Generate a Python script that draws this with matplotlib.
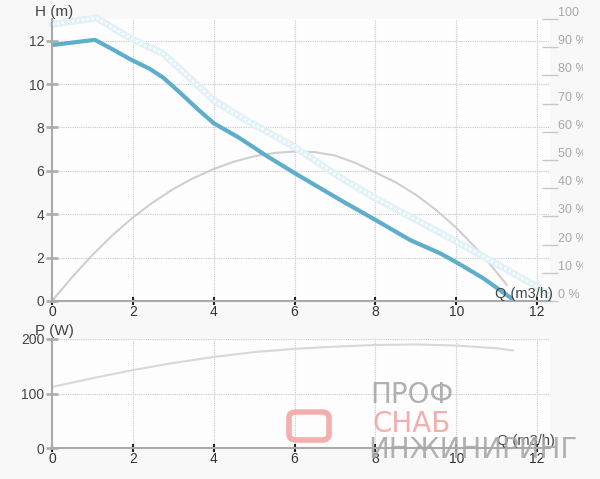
import matplotlib.pyplot as plt
from matplotlib.patches import FancyBboxPatch
from matplotlib.transforms import Bbox, TransformedBbox

# данные
q_head = [0, 1.06, 1.5, 1.93, 2.42, 2.75, 3.17, 3.6, 4.0, 4.65, 5.3, 6.0, 7.13, 8.0, 8.86, 9.6, 10.0, 10.67, 11.37]
head = [11.8, 12.04, 11.6, 11.15, 10.7, 10.3, 9.6, 8.85, 8.2, 7.5, 6.7, 5.9, 4.66, 3.74, 2.81, 2.2, 1.79, 1.05, 0.12]

q_max = [0, 1.1, 1.93, 2.75, 3.4, 4.0, 4.65, 6.0, 7.13, 8.0, 9.6, 10.67, 12.0, 12.3]
head_max = [12.75, 13.05, 12.12, 11.4, 10.3, 9.25, 8.5, 7.1, 5.7, 4.74, 3.15, 2.05, 0.66, 0.2]

q_eff = [0, 0.5, 1, 1.5, 2, 2.5, 3, 3.5, 4, 4.5, 5, 5.5, 6, 6.5, 7, 7.5, 8, 8.5, 9, 9.5, 10, 10.5, 11, 11.25]
eff = [0, 8.5, 16.3, 23.4, 29.6, 35.0, 39.7, 43.6, 46.8, 49.4, 51.3, 52.5, 53.0, 52.8, 51.6, 49.0, 45.6, 42.1, 37.7, 32.3, 26.0, 18.6, 10.2, 5.7]

q_pow = [0, 1, 2, 3, 4, 5, 6, 7, 8, 9, 10, 11, 11.4]
power = [112, 128, 143, 156, 167, 176, 182, 186, 189, 190, 188, 183, 179]

x_ticks = [0, 2, 4, 6, 8, 10, 12]
h_ticks = [0, 2, 4, 6, 8, 10, 12]
eff_ticks = [0, 10, 20, 30, 40, 50, 60, 70, 80, 90, 100]
p_ticks = [0, 100, 200]

W, H = 600, 479
plt.rcParams['font.family'] = ['Liberation Sans', 'DejaVu Sans']
fig = plt.figure(figsize=(6, 4.79), dpi=100, facecolor='#f8f8f8')

def box(left, top, right, bottom):
    return [left / W, (H - bottom) / H, (right - left) / W, (bottom - top) / H]

ax = fig.add_axes(box(52, 19, 550, 301))
ax2 = ax.twinx()
axp = fig.add_axes(box(52, 339, 550, 448))

xmax = (550 - 52) / 40.42

for a in (ax, axp):
    a.set_facecolor('#fdfdfd')
    a.set_xlim(0, xmax)
    a.set_xticks(x_ticks)
    a.grid(True, color='#c8c8c8', linestyle=(0, (1, 1)), linewidth=0.8)
    for s in ('top', 'right'):
        a.spines[s].set_visible(False)
    a.spines['left'].set_color('#aaaaaa')
    a.spines['bottom'].set_color('#aaaaaa')
    a.spines['left'].set_linewidth(1.5)
    a.spines['bottom'].set_linewidth(1.5)
    a.tick_params(axis='x', direction='inout', length=6, width=1.5, color='#222222',
                  labelcolor='#333333', labelsize=10, pad=0)
    a.tick_params(axis='y', direction='inout', length=9, width=2, color='#b0b0b0',
                  labelcolor='#444444', labelsize=10, pad=1)
    a.set_axisbelow(True)

ax.set_ylim(0, 13.0)
ax.set_yticks(h_ticks)
axp.set_ylim(0, 200)
axp.set_yticks(p_ticks)

# КПД, правая ось
ax2.set_ylim(0, 100)
ax2.set_yticks(eff_ticks)
ax2.set_yticklabels([f'{v} %' for v in eff_ticks])
for s in ('top', 'right', 'left', 'bottom'):
    ax2.spines[s].set_visible(False)
ax2.tick_params(axis='y', direction='inout', length=11, width=1, color='#c8c8c8',
                labelcolor='#a8a8a8', labelsize=9, pad=0)
clip = TransformedBbox(Bbox([[0, 0], [583 / W, 1]]), fig.transFigure)
for lbl in ax2.get_yticklabels():
    lbl.set_va('bottom')
    lbl.set_clip_box(clip)
    lbl.set_clip_on(True)
ax2.plot(q_eff, eff, color='#cfcfcf', linewidth=1.5)

ax.plot(q_max, head_max, color='#e0f1f7', linewidth=5, clip_on=False, solid_capstyle='round')
ax.plot(q_max, head_max, color='#ffffff', linewidth=1.8, linestyle=(0, (1, 1)), clip_on=False)
ax.plot(q_head, head, color='#5eaecb', linewidth=3, solid_capstyle='round')
ax.set_zorder(ax2.get_zorder() + 1)
ax.patch.set_visible(False)
ax2.patch.set_visible(True)
ax2.patch.set_facecolor('#fdfdfd')

axp.plot(q_pow, power, color='#d8d8d8', linewidth=1.5)

ax.text(10.96, 0.02, 'Q (m3/h)', color='#444444', fontsize=10.5, ha='left', va='bottom')
axp.text(11.0, 0, 'Q (m3/h)', color='#444444', fontsize=10.5, ha='left', va='bottom')
fig.text(35 / W, (H - 19) / H, 'H (m)', color='#444444', fontsize=11, ha='left', va='bottom')
fig.text(35 / W, (H - 338) / H, 'P (W)', color='#444444', fontsize=11, ha='left', va='bottom')

# водяной знак
fig.text(370 / W, (H - 403) / H, 'ПРОФ', family='DejaVu Sans', color='#a8a8a8', fontsize=20,
         ha='left', va='baseline', alpha=0.9)
fig.text(372 / W, (H - 432) / H, 'СНАБ', family='DejaVu Sans', color='#f2a6a6', fontsize=20,
         ha='left', va='baseline', alpha=0.9)
fig.text(368 / W, (H - 458) / H, 'ИНЖИНИРИНГ', family='DejaVu Sans', color='#a8a8a8', fontsize=20,
         ha='left', va='baseline', alpha=0.9)
fig.patches.append(FancyBboxPatch((289 / W, (H - 440) / H), 40 / W, 28 / H,
                                  boxstyle='round,pad=0,rounding_size=0.012',
                                  transform=fig.transFigure, fill=False,
                                  edgecolor='#f2a6a6', linewidth=4, alpha=0.9))

fig.savefig('out.png', dpi=100, facecolor=fig.get_facecolor())
